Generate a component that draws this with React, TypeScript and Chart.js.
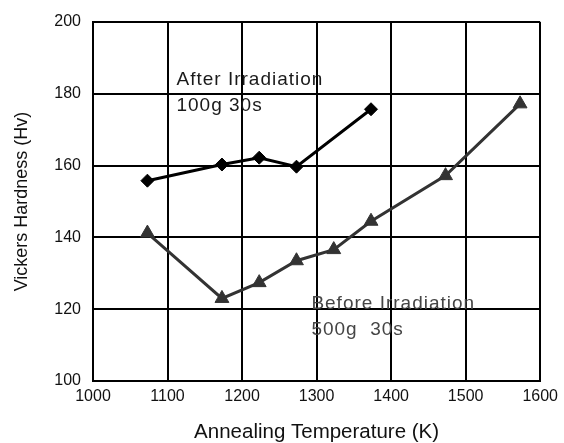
import React, { useEffect, useRef } from "react";
import { Chart, registerables } from "chart.js";

Chart.register(...registerables);

// ---- data ----
const afterTemps = [1073, 1173, 1223, 1273, 1373];
const afterHardness = [155.8, 160.3, 162.2, 159.7, 175.7];

const beforeTemps = [1073, 1173, 1223, 1273, 1323, 1373, 1473, 1573];
const beforeHardness = [141.2, 123.0, 127.4, 133.5, 136.6, 144.5, 157.2, 177.2];

const xTickValues = [1000, 1100, 1200, 1300, 1400, 1500, 1600];
const yTickValues = [100, 120, 140, 160, 180, 200];

const afterNote = ["After Irradiation", "100g 30s"];
const beforeNote = ["Before Irradiation", "500g  30s"];

const xTitle = "Annealing Temperature (K)";
const yTitle = "Vickers Hardness (Hv)";

const FONT = "'Liberation Sans', Arial, sans-serif";

// annotation anchors in data units (left edge / first baseline)
const notes = [
  { lines: afterNote, x: 1112, y: 182.5, color: "#1a1a1a" },
  { lines: beforeNote, x: 1293, y: 120.0, color: "#454545" },
];

const notePlugin = {
  id: "notes",
  afterDatasetsDraw(chart: any) {
    const ctx = chart.ctx;
    const xs = chart.scales.x;
    const ys = chart.scales.y;
    ctx.save();
    ctx.font = `19px ${FONT}`;
    (ctx as any).letterSpacing = "1px";
    ctx.textAlign = "left";
    ctx.textBaseline = "alphabetic";
    for (const n of notes) {
      const px = xs.getPixelForValue(n.x);
      const py = ys.getPixelForValue(n.y);
      ctx.fillStyle = n.color;
      n.lines.forEach((t, i) => ctx.fillText(t, px, py + i * 26));
    }
    ctx.restore();
  },
};

export default function App() {
  const ref = useRef<HTMLCanvasElement | null>(null);

  useEffect(() => {
    if (!ref.current) return;
    const chart = new Chart(ref.current, {
      type: "line",
      data: {
        datasets: [
          {
            label: "After Irradiation",
            data: afterTemps.map((t, i) => ({ x: t, y: afterHardness[i] })),
            borderColor: "#000000",
            backgroundColor: "#000000",
            borderWidth: 3,
            pointStyle: "rectRot",
            pointRadius: 6.5,
            pointBorderWidth: 1,
            pointBorderColor: "#000000",
            pointBackgroundColor: "#000000",
            tension: 0,
          },
          {
            label: "Before Irradiation",
            data: beforeTemps.map((t, i) => ({ x: t, y: beforeHardness[i] })),
            borderColor: "#333333",
            backgroundColor: "#333333",
            borderWidth: 3,
            pointStyle: "triangle",
            pointRadius: 8,
            pointBorderWidth: 1,
            pointBorderColor: "#333333",
            pointBackgroundColor: "#333333",
            tension: 0,
          },
        ],
      },
      options: {
        animation: false,
        responsive: true,
        maintainAspectRatio: false,
        layout: { padding: { top: 22, right: 18, left: 0, bottom: 0 } },
        plugins: {
          legend: { display: false },
          tooltip: { enabled: false },
        },
        scales: {
          x: {
            type: "linear",
            min: 1000,
            max: 1600,
            afterBuildTicks: (s: any) => {
              s.ticks = xTickValues.map((v) => ({ value: v }));
            },
            afterFit: (s: any) => {
              s.height = 62;
            },
            grid: { color: "#000000", lineWidth: 2, drawTicks: false },
            border: { color: "#000000", width: 2 },
            ticks: {
              color: "#111111",
              font: { family: FONT, size: 16 },
              padding: 6,
              maxRotation: 0,
              autoSkip: false,
              callback: (v: any) => String(v),
            },
            title: {
              display: true,
              text: xTitle,
              color: "#111111",
              font: { family: FONT, size: 20.5, lineHeight: 1 },
              padding: { top: 0, bottom: 0 },
            },
          },
          y: {
            type: "linear",
            min: 100,
            max: 200,
            afterBuildTicks: (s: any) => {
              s.ticks = yTickValues.map((v) => ({ value: v }));
            },
            afterFit: (s: any) => {
              s.width = 93;
            },
            grid: { color: "#000000", lineWidth: 2, drawTicks: false },
            border: { color: "#000000", width: 2 },
            ticks: {
              color: "#111111",
              font: { family: FONT, size: 16 },
              padding: 12,
              callback: (v: any) => String(v),
            },
            title: {
              display: true,
              text: yTitle,
              color: "#111111",
              font: { family: FONT, size: 18, lineHeight: 1 },
              padding: { top: 13, bottom: 0 },
            },
          },
        },
      },
      plugins: [notePlugin],
    });
    return () => chart.destroy();
  }, []);

  return (
    <div style={{ position: "fixed", left: 0, top: 0, width: 564, height: 443, background: "#ffffff" }}>
      <canvas ref={ref} />
    </div>
  );
}
